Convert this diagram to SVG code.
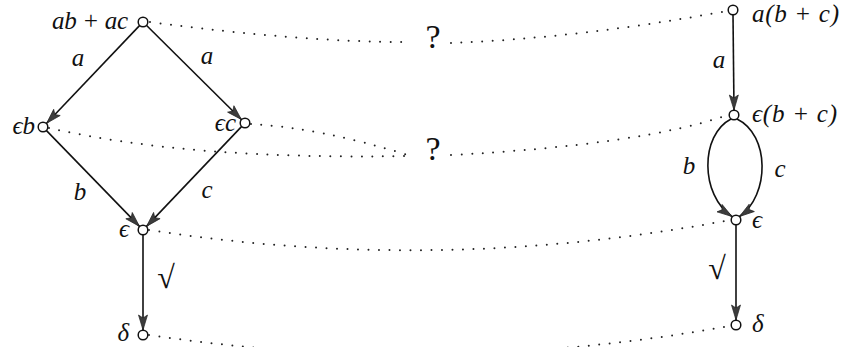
<svg xmlns="http://www.w3.org/2000/svg" width="848" height="347" viewBox="0 0 848 347">
<style>
.node{fill:#fff;stroke:#111;stroke-width:1.5}
.edge{fill:none;stroke:#111;stroke-width:1.6;marker-end:url(#ah)}
.dot{fill:none;stroke:#222;stroke-width:2;stroke-linecap:round;stroke-dasharray:0 10.5}
text{font-family:"Liberation Serif","Times New Roman","DejaVu Serif",serif;font-style:italic;font-size:25px;fill:#111}
.mid{text-anchor:middle}
.end{text-anchor:end}
.chk{font-style:normal;font-size:32px}
.q{font-style:normal;font-size:34px}
</style>
<defs>
<marker id="ah" markerUnits="userSpaceOnUse" markerWidth="17" markerHeight="12" viewBox="-16 -6 17 12" refX="0" refY="0" orient="auto">
<path d="M0,0 L-15,-4.5 L-12,0 L-15,4.5 Z" fill="#3c3c3c" stroke="#222" stroke-width="0.7"/>
</marker>
</defs>
<rect width="848" height="347" fill="#fff"/>
<g id="connectors">
<path class="edge" d="M139.5,25.6 L46.6,123.3"/>
<path class="edge" d="M146.6,25.5 L241.4,119.5"/>
<path class="edge" d="M46.5,130.6 L139.5,226.4"/>
<path class="edge" d="M241.5,126.6 L146.5,226.4"/>
<path class="edge" d="M143,235 L143,330"/>
<path class="edge" d="M733,15 L734,110"/>
<path class="edge" d="M731,119 C700,135 700,195 732,216.5"/>
<path class="edge" d="M737,119 C770,135 770,195 739.5,216.5"/>
<path class="edge" d="M736,225 L736,320"/>
<text x="78" y="66" class="mid">a</text>
<text x="207" y="64" class="mid">a</text>
<text x="80" y="200" class="mid">b</text>
<text x="207" y="198" class="mid">c</text>
<text x="166" y="288" class="mid chk">√</text>
<text x="719" y="68" class="mid">a</text>
<text x="689" y="174" class="mid">b</text>
<text x="780" y="177" class="mid">c</text>
<text x="717" y="279" class="mid chk">√</text>
<g id="correspondences">
<path class="dot" d="M150,22 Q300,42 407,42"/>
<path class="dot" d="M451,43 Q580,38 727,11"/>
<path class="dot" d="M49,128 Q190,160 408,156"/>
<path class="dot" d="M251,124 Q320,128 408,155"/>
<path class="dot" d="M451,155 Q640,145 728,115"/>
<path class="dot" d="M149,230 Q439,275 730,220"/>
<path class="dot" d="M149,335 Q439,378 730,326"/>
<text x="433" y="48" class="mid q">?</text>
<text x="433" y="160" class="mid q">?</text>
</g>
</g>
<g id="n-abac"><circle class="node" cx="143" cy="22" r="4.8"/><text x="52" y="29" textLength="76" lengthAdjust="spacing">ab + ac</text></g>
<g id="n-eb"><circle class="node" cx="43" cy="127" r="4.8"/><text x="35" y="134" class="end">ϵb</text></g>
<g id="n-ec"><circle class="node" cx="245" cy="123" r="4.8"/><text x="236" y="131" class="end">ϵc</text></g>
<g id="n-e-left"><circle class="node" cx="143" cy="230" r="4.8"/><text x="129" y="237" class="end">ϵ</text></g>
<g id="n-delta-left"><circle class="node" cx="143" cy="335" r="4.8"/><text x="129" y="341" class="end">δ</text></g>
<g id="n-abc"><circle class="node" cx="733" cy="10" r="4.8"/><text x="752" y="22" textLength="87" lengthAdjust="spacing">a(b + c)</text></g>
<g id="n-ebc"><circle class="node" cx="734" cy="115" r="4.8"/><text x="752" y="122" textLength="85" lengthAdjust="spacing">ϵ(b + c)</text></g>
<g id="n-e-right"><circle class="node" cx="736" cy="220" r="4.8"/><text x="752" y="228">ϵ</text></g>
<g id="n-delta-right"><circle class="node" cx="736" cy="325" r="4.8"/><text x="752" y="332">δ</text></g>
</svg>
